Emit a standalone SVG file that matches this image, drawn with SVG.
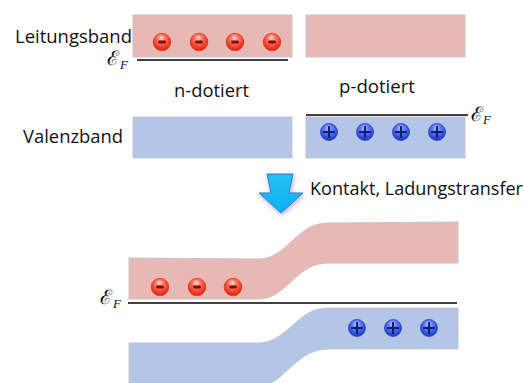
<svg xmlns="http://www.w3.org/2000/svg" width="524" height="383" viewBox="0 0 524 383">
<defs>
<radialGradient id="gE" cx="50%" cy="38%" r="60%" fx="45%" fy="25%">
<stop offset="0" stop-color="#ffe0d8"/>
<stop offset="0.35" stop-color="#ff7a68"/>
<stop offset="0.8" stop-color="#f03822"/>
<stop offset="1" stop-color="#d82810"/>
</radialGradient>
<radialGradient id="gH" cx="50%" cy="38%" r="60%" fx="45%" fy="25%">
<stop offset="0" stop-color="#c8d4ff"/>
<stop offset="0.35" stop-color="#6a84ff"/>
<stop offset="0.8" stop-color="#2f4fe0"/>
<stop offset="1" stop-color="#1c34b8"/>
</radialGradient>
<linearGradient id="gA" x1="0" y1="0" x2="0" y2="1">
<stop offset="0" stop-color="#20c4f6"/>
<stop offset="1" stop-color="#10aef0"/>
</linearGradient>
<filter id="sh" x="-40%" y="-40%" width="180%" height="180%">
<feDropShadow dx="1" dy="2" stdDeviation="2.5" flood-color="#7a5aa0" flood-opacity="0.5"/>
</filter>
<symbol id="el" viewBox="-10 -10 20 20" overflow="visible">
<circle r="8.8" fill="url(#gE)" stroke="#d83a28" stroke-width="0.8"/>
<rect x="-3.8" y="-1.5" width="7.6" height="3" rx="1.2" fill="#7a1008"/>
</symbol>
<symbol id="ho" viewBox="-10 -10 20 20" overflow="visible">
<circle r="8.5" fill="url(#gH)" stroke="#2a40b0" stroke-width="0.8"/>
<path d="M-5,0 H5 M0,-5 V5" stroke="#0e1e70" stroke-width="2.2" stroke-linecap="round"/>
</symbol>
</defs>
<style>
.cb{fill:#e8b9b4;stroke:#c6c6c6;stroke-width:1}
.vb{fill:#b3c6e5;stroke:#c6c6c6;stroke-width:1}
.ef{stroke:#000;stroke-width:1.6;fill:none}
.t{font-family:"Open Sans","Liberation Sans",sans-serif;font-size:17.5px;fill:#111}
.e1{font-family:"DejaVu Serif",serif;font-size:20px;fill:#111}
.e2{font-family:"Liberation Serif",serif;font-style:italic;font-size:13px;fill:#111}
</style>

<g id="labels">
<text class="t" x="15" y="43" textLength="117" lengthAdjust="spacingAndGlyphs">Leitungsband</text>
<text class="t" x="23" y="143" textLength="100" lengthAdjust="spacingAndGlyphs">Valenzband</text>
<text class="t" x="174" y="97" textLength="75" lengthAdjust="spacingAndGlyphs">n-dotiert</text>
<text class="t" x="339" y="93" textLength="76" lengthAdjust="spacingAndGlyphs">p-dotiert</text>
<text class="t" x="310" y="195" textLength="213" lengthAdjust="spacingAndGlyphs">Kontakt, Ladungstransfer</text>
</g>

<g id="n-type">
<rect class="cb" x="133" y="15" width="159" height="42"/>
<rect class="vb" x="133" y="117" width="159" height="41"/>
<line class="ef" x1="137" y1="60" x2="288" y2="60"/>
<text x="107" y="65"><tspan class="e1">ℰ</tspan><tspan class="e2" x="120" y="69">F</tspan></text>
<use href="#el" x="152" y="32" width="20" height="20"/>
<use href="#el" x="189" y="32" width="20" height="20"/>
<use href="#el" x="225" y="32" width="20" height="20"/>
<use href="#el" x="262" y="32" width="20" height="20"/>
</g>

<g id="p-type">
<rect class="cb" x="306" y="15" width="159" height="42"/>
<rect class="vb" x="306" y="117" width="159" height="41"/>
<line class="ef" x1="306" y1="115" x2="468" y2="115"/>
<text x="471" y="121"><tspan class="e1">ℰ</tspan><tspan class="e2" x="483" y="124">F</tspan></text>
<use href="#ho" x="319" y="122" width="20" height="20"/>
<use href="#ho" x="355" y="122" width="20" height="20"/>
<use href="#ho" x="391" y="122" width="20" height="20"/>
<use href="#ho" x="427" y="122" width="20" height="20"/>
</g>

<g id="arrow">
<path d="M267,174 L293,174 L289,193 L303,193 L281,213 L259,193 L271,193 Z" fill="url(#gA)" stroke="#2e7ccc" stroke-width="1" stroke-linejoin="round" filter="url(#sh)"/>
</g>

<g id="junction">
<path class="cb" d="M129,258 L258,259 C272,259 280,252 292,241 C304,230 312,223 330,223 L458,222 L458,263 L330,263 C312,263 304,270 292,281 C280,292 272,299 258,299 L129,299 Z"/>
<path class="vb" d="M129,343 L258,343 C272,343 280,336 292,326 C304,315 312,308 330,308 L458,308 L458,349 L330,349 C312,349 304,356 292,366 C280,377 272,386 258,386 L129,386 Z"/>
<line class="ef" x1="128" y1="303" x2="457" y2="303"/>
<text x="100" y="304"><tspan class="e1">ℰ</tspan><tspan class="e2" x="113" y="308">F</tspan></text>
<use href="#el" x="150" y="277" width="20" height="20"/>
<use href="#el" x="187" y="277" width="20" height="20"/>
<use href="#el" x="223" y="277" width="20" height="20"/>
<use href="#ho" x="347" y="318" width="20" height="20"/>
<use href="#ho" x="383" y="318" width="20" height="20"/>
<use href="#ho" x="419" y="318" width="20" height="20"/>
</g>
</svg>
